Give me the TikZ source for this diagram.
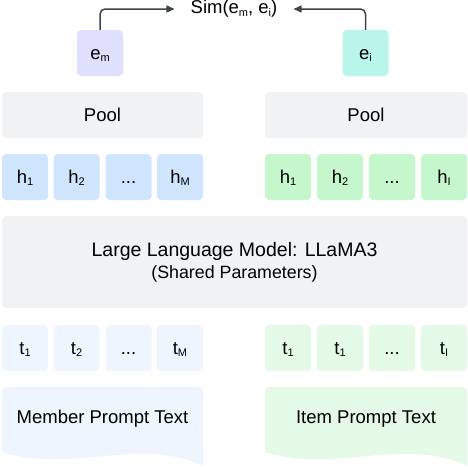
\documentclass[tikz,border=0pt]{standalone}
\usepackage{fontspec}
\setmainfont{Liberation Sans}
\usetikzlibrary{arrows.meta}
\definecolor{embox}{HTML}{DEE0FD}
\definecolor{eibox}{HTML}{B9F5EA}
\definecolor{graybox}{HTML}{F1F2F4}
\definecolor{hmbox}{HTML}{CFE4FD}
\definecolor{hibox}{HTML}{C6F6CB}
\definecolor{tmbox}{HTML}{EEF5FE}
\definecolor{tibox}{HTML}{E5FAE6}
\definecolor{arrowcol}{HTML}{3D4449}
\newcommand{\lo}[1]{\raisebox{-0.12em}{\fontsize{11}{11}\selectfont #1}}
\begin{document}
\begin{tikzpicture}[x=1pt,y=-1pt,
    txt/.style={font=\fontsize{18.5}{22}\selectfont},
    tok/.style={txt,rounded corners=4pt,minimum width=46pt,minimum height=46pt,inner sep=0pt,
      text height=13pt,text depth=0pt},
    wide/.style={txt,rounded corners=4pt,fill=graybox,minimum height=46pt,inner sep=0pt},
    link/.style={draw=arrowcol,line width=1.5pt,rounded corners=5pt,-{Triangle[length=8pt,width=7pt]}}]
    \useasboundingbox (0,0) rectangle (468,466);
    % similarity
    \node[txt,inner xsep=16pt,inner ysep=2pt] (sim) at (234,9) {Sim(e\lo{m}, e\lo{i})};
    \node[tok,fill=embox] (em) at (100,53) {e\lo{m}};
    \node[tok,fill=eibox] (ei) at (365.5,53) {e\lo{i}};
    \draw[link] (em.north) |- (sim.west);
    \draw[link] (ei.north) |- (sim.east);
    % pooling
    \node[wide,minimum width=201pt] (poolm) at (102.5,115) {Pool};
    \node[wide,minimum width=202pt] (pooli) at (366,115) {Pool};
    % hidden states
    \node[tok,fill=hmbox] (hm1) at (25,177) {h\lo{1}};
    \node[tok,fill=hmbox] (hm2) at (76.5,177) {h\lo{2}};
    \node[tok,fill=hmbox] (hm3) at (128.5,177) {...};
    \node[tok,fill=hmbox] (hmM) at (180,177) {h\lo{M}};
    \node[tok,fill=hibox] (hi1) at (288,177) {h\lo{1}};
    \node[tok,fill=hibox] (hi2) at (340,177) {h\lo{2}};
    \node[tok,fill=hibox] (hi3) at (392,177) {...};
    \node[tok,fill=hibox] (hiI) at (444,177) {h\lo{I}};
    % shared model
    \node[wide,minimum width=465pt,minimum height=92pt,align=center] (llm) at (234.5,262)
      {\fontsize{19.5}{25}\selectfont Large Language Model: LLaMA3\\
       \fontsize{17.8}{25}\selectfont (Shared Parameters)};
    % tokens
    \node[tok,fill=tmbox] (tm1) at (25,348) {t\lo{1}};
    \node[tok,fill=tmbox] (tm2) at (76.5,348) {t\lo{2}};
    \node[tok,fill=tmbox] (tm3) at (128.5,348) {...};
    \node[tok,fill=tmbox] (tmM) at (180,348) {t\lo{M}};
    \node[tok,fill=tibox] (ti1) at (288,348) {t\lo{1}};
    \node[tok,fill=tibox] (ti2) at (340,348) {t\lo{1}};
    \node[tok,fill=tibox] (ti3) at (392,348) {...};
    \node[tok,fill=tibox] (tiI) at (444,348) {t\lo{I}};
    % prompts
    \fill[tmbox] (2,452) [rounded corners=4pt] -- (2,387) -- (203,387) [sharp corners] -- (203,466)
      .. controls (140,436) and (70,474) .. (2,452) -- cycle;
    \fill[tibox] (265,452) [rounded corners=4pt] -- (265,387) -- (467,387) [sharp corners] -- (467,466)
      .. controls (403,436) and (333,474) .. (265,452) -- cycle;
    \node[txt] (promptm) at (102.5,419) {Member Prompt Text};
    \node[txt] (prompti) at (366,419) {Item Prompt Text};
  \end{tikzpicture}
\end{document}
